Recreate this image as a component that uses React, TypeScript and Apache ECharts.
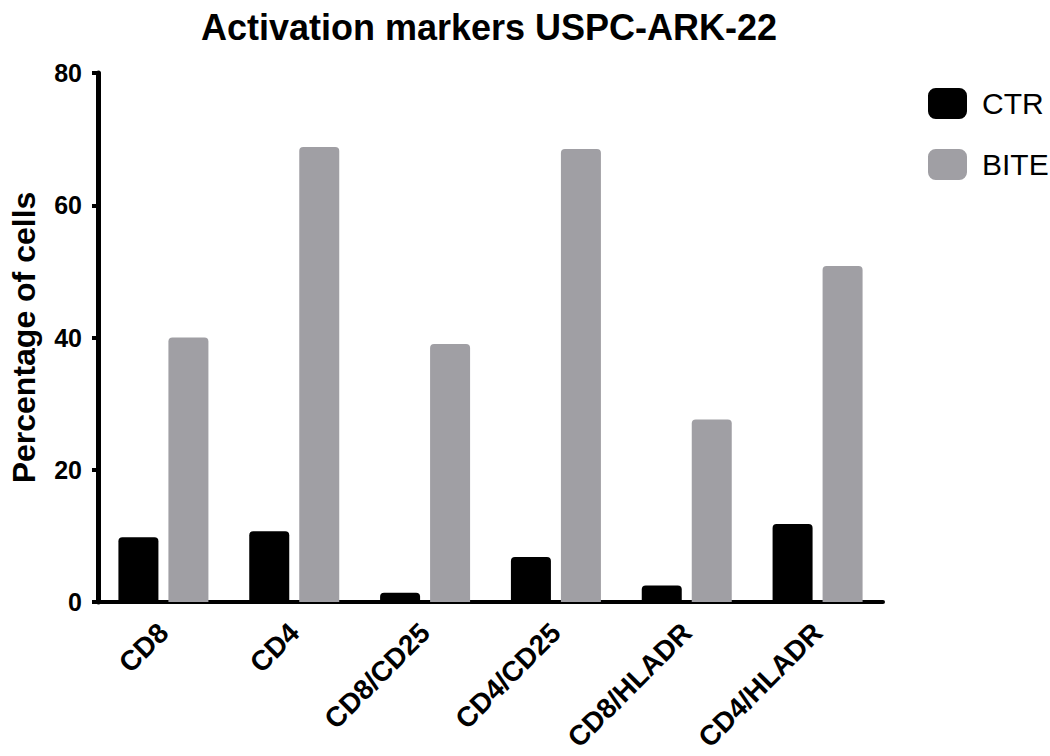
import React, { useEffect, useRef } from "react";
import * as echarts from "echarts";

const categories = ["CD8", "CD4", "CD8/CD25", "CD4/CD25", "CD8/HLADR", "CD4/HLADR"];
const ctrValues = [9.8, 10.7, 1.4, 6.8, 2.5, 11.8];
const biteValues = [40.0, 68.8, 39.0, 68.5, 27.6, 50.8];
const yTicks = { min: 0, max: 80, interval: 20 };

const FONT = "'Liberation Sans', Arial, sans-serif";

export default function App() {
  const ref = useRef<HTMLDivElement>(null);
  useEffect(() => {
    document.body.style.margin = "0";
    if (!ref.current) return;
    const chart = echarts.init(ref.current, undefined, { renderer: "svg" });
    chart.setOption({
      animation: false,
      backgroundColor: "#ffffff",
      title: {
        text: "Activation markers USPC-ARK-22",
        left: 484,
        textAlign: "center",
        top: 4,
        textStyle: { fontFamily: FONT, fontSize: 36, fontWeight: "bold", color: "#000" },
      },
      legend: {
        orient: "vertical",
        left: 923,
        top: 83,
        itemWidth: 39,
        itemHeight: 31,
        itemGap: 30,
        icon: "roundRect",
        textStyle: { fontFamily: FONT, fontSize: 30, color: "#000", padding: [0, 0, 0, 10] },
        data: ["CTR", "BITE"],
      },
      grid: { left: 86, right: 167, top: 73, bottom: 154, containLabel: false },
      xAxis: {
        type: "category",
        data: categories,
        axisLine: { lineStyle: { color: "#000", width: 4 } },
        axisTick: { alignWithLabel: true, length: 6, lineStyle: { color: "#000", width: 4 } },
        axisLabel: {
          rotate: 45,
          margin: 26,
          interval: 0,
          fontFamily: FONT,
          fontSize: 28,
          fontWeight: "bold",
          color: "#000",
        },
      },
      yAxis: {
        type: "value",
        min: yTicks.min,
        max: yTicks.max,
        interval: yTicks.interval,
        name: "Percentage of cells",
        nameLocation: "middle",
        nameGap: 58,
        nameTextStyle: { fontFamily: FONT, fontSize: 32, fontWeight: "bold", color: "#000" },
        axisLine: { show: true, lineStyle: { color: "#000", width: 5 } },
        axisTick: { show: true, length: 6, lineStyle: { color: "#000", width: 4 } },
        splitLine: { show: false },
        axisLabel: { margin: 16, fontFamily: FONT, fontSize: 25, fontWeight: "bold", color: "#000" },
      },
      series: [
        {
          name: "CTR",
          type: "bar",
          data: ctrValues,
          barWidth: 40,
          barGap: "25%",
          itemStyle: { color: "#000000", borderRadius: [4, 4, 0, 0] },
        },
        {
          name: "BITE",
          type: "bar",
          data: biteValues,
          barWidth: 40,
          barGap: "25%",
          itemStyle: { color: "#a09fa4", borderRadius: [4, 4, 0, 0] },
        },
      ],
    });
    return () => chart.dispose();
  }, []);
  return <div ref={ref} style={{ width: 1050, height: 756 }} />;
}
